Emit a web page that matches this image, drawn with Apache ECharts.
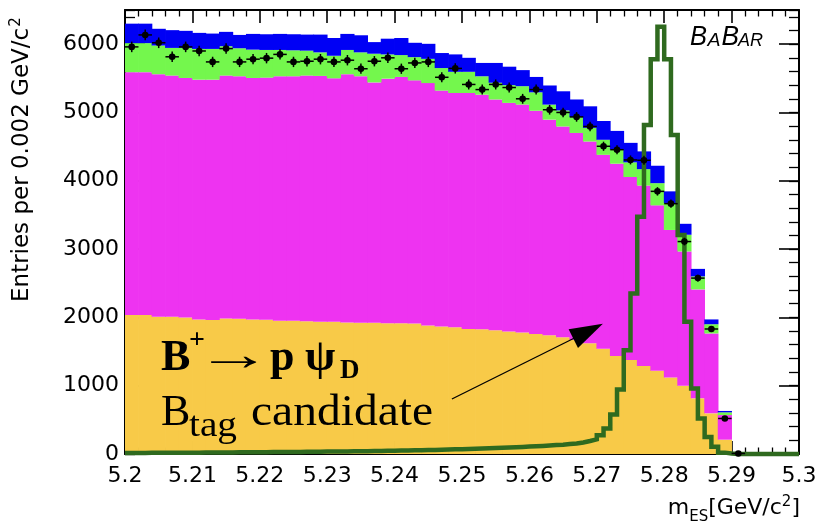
<!DOCTYPE html>
<html>
<head>
<meta charset="utf-8">
<title>mES distribution</title>
<script src="https://cdn.jsdelivr.net/npm/echarts@6.0.0/dist/echarts.min.js"></script>
<style>
html,body{margin:0;padding:0;background:#ffffff;}
#chart{width:819px;height:525px;}
</style>
</head>
<body>
<div id="chart"></div>
<script>
// ---------------- data ----------------
const xTickLabels = ['5.2','5.21','5.22','5.23','5.24','5.25','5.26','5.27','5.28','5.29','5.3'];
const yTickLabels = ['0','1000','2000','3000','4000','5000','6000'];
const binLow = 5.2, binWidth = 0.002;   // stacked background histograms: 50 bins
const sigLow = 5.2, sigWidth = 0.001;   // signal histogram: 100 bins

// cumulative tops of the stacked components
const orangeTop = [2035,2035,2010,2010,2000,1970,1960,1985,1980,1970,
                   1965,1950,1950,1945,1935,1935,1925,1920,1920,1915,
                   1915,1910,1880,1865,1855,1830,1825,1810,1795,1780,
                   1755,1740,1710,1670,1620,1540,1435,1375,1290,1220,
                   1120,1000,815,595,210, 0,0,0,0,0];
const magentaTop = [5590,5590,5560,5540,5505,5480,5480,5540,5530,5505,
                    5510,5530,5530,5540,5535,5500,5560,5530,5440,5495,
                    5520,5470,5430,5320,5285,5285,5260,5190,5140,5115,
                    5025,4895,4795,4700,4575,4380,4250,4055,3930,3640,
                    3280,2965,2410,1765,570, 0,0,0,0,0];
const greenTop = [6015,6015,5980,5945,5945,5930,5930,5970,5940,5920,
                  5915,5915,5910,5905,5880,5830,5915,5880,5860,5850,
                  5840,5810,5785,5650,5595,5595,5530,5435,5400,5385,
                  5295,5115,5030,4930,4775,4600,4455,4270,4170,3965,
                  3675,3210,2600,1900,610, 0,0,0,0,0];
const blueTop = [6300,6300,6225,6205,6195,6165,6155,6180,6135,6150,
                 6145,6150,6145,6140,6140,6090,6150,6130,6030,6080,
                 6090,6020,6005,5870,5850,5800,5725,5725,5670,5620,
                 5520,5395,5310,5190,5090,4875,4730,4555,4430,4220,
                 3845,3370,2710,1970,630, 0,0,0,0,0];
// data points (bins 0..45)
const dataCounts = [5960,6135,6020,5815,5960,5900,5740,5935,5740,5780,
                    5795,5850,5740,5750,5780,5740,5765,5640,5750,5800,
                    5640,5725,5740,5515,5645,5410,5335,5410,5365,5200,
                    5335,5040,5000,4935,4795,4505,4455,4305,4300,3845,
                    3665,3110,2575,1830,520,8];
// signal (B+ -> p psi_D) outline, 100 bins of 0.001
const signalCounts = [15,16,16,17,17,18,18,19,19,20,
                      20,21,21,22,23,23,24,25,25,26,
                      27,28,28,29,30,31,32,33,34,35,
                      36,37,38,40,41,42,44,45,47,49,
                      50,52,54,56,58,60,62,65,68,71,
                      74,77,80,84,88,92,96,100,104,108,
                      113,118,124,130,136,145,155,168,190,215,
                      275,375,580,945,1520,2350,3475,4815,5780,6255,
                      5780,4670,3205,1935,960,520,250,105,20,6,
                      0,0,0,0,0,0,0,0,0,0];
// annotation arrow (data coordinates)
const arrowTail = [5.2485, 805];
const arrowTip = [5.2709, 1905];

// ---------------- derived tables ----------------
const categories = orangeTop.map((_, i) => (binLow + binWidth * (i + 0.5)).toFixed(3));
const orangePart = orangeTop.slice();
const magentaPart = magentaTop.map((v, i) => v - orangeTop[i]);
const greenPart = greenTop.map((v, i) => v - magentaTop[i]);
const bluePart = blueTop.map((v, i) => v - greenTop[i]);
const dataPts = dataCounts.map((v, i) => [i, v]);
const sigPts = signalCounts.map((v, j) => [sigLow + sigWidth * j, v]);
sigPts.push([sigLow + sigWidth * signalCounts.length, signalCounts[signalCounts.length - 1]]);

const GRID = {left: 125, right: 20, top: 10, bottom: 71, outerBoundsMode: 'none'};
const BLACK = '#000000';
const LBL = {fontFamily: '"DejaVu Sans"', fontSize: 22, color: BLACK};

function xFmt(v) { const k = Math.round((v - 5.2) / 0.01); return xTickLabels[k] !== undefined ? xTickLabels[k] : ''; }
function yFmt(v) { const k = Math.round(v / 1000); return (Math.abs(v - k * 1000) < 1e-6 && yTickLabels[k] !== undefined) ? yTickLabels[k] : ''; }

const chart = echarts.init(document.getElementById('chart'), null, {renderer: 'canvas', width: 819, height: 525});

const barCommon = (name, data, color) => ({
  name, type: 'bar', xAxisIndex: 1, yAxisIndex: 0, stack: 'bkg', data,
  barWidth: 14.2, barGap: '-100%', silent: true, z: 2,
  itemStyle: {color}
});

const option = {
  animation: false,
  backgroundColor: '#ffffff',
  grid: [Object.assign({}, GRID), Object.assign({}, GRID)],
  xAxis: [
    { type: 'value', gridIndex: 0, position: 'bottom', min: 5.2, max: 5.3, interval: 0.01,
      axisLine: {show: true, onZero: false, lineStyle: {color: BLACK, width: 2}},
      axisTick: {show: true, inside: true, length: 13, lineStyle: {color: BLACK, width: 1.6}},
      minorTick: {show: true, splitNumber: 5, length: 6.5, lineStyle: {color: BLACK, width: 1.3}},
      splitLine: {show: false}, minorSplitLine: {show: false},
      axisLabel: Object.assign({show: true, margin: 11, formatter: xFmt, showMaxLabel: true, showMinLabel: true}, LBL) },
    { type: 'category', gridIndex: 0, position: 'top', data: categories, boundaryGap: true, show: false },
    { type: 'value', gridIndex: 1, position: 'top', min: 5.2, max: 5.3, interval: 0.01,
      axisLine: {show: true, onZero: false, lineStyle: {color: BLACK, width: 2}},
      axisTick: {show: true, inside: true, length: 13, lineStyle: {color: BLACK, width: 1.6}},
      minorTick: {show: true, splitNumber: 5, length: 6.5, lineStyle: {color: BLACK, width: 1.3}},
      splitLine: {show: false}, minorSplitLine: {show: false}, axisLabel: {show: false} }
  ],
  yAxis: [
    { type: 'value', gridIndex: 0, position: 'left', min: 0, max: 6500, interval: 1000,
      axisLine: {show: true, onZero: false, lineStyle: {color: BLACK, width: 2}},
      axisTick: {show: true, inside: true, length: 20, lineStyle: {color: BLACK, width: 1.6}},
      splitLine: {show: false},
      axisLabel: Object.assign({show: true, margin: 6, formatter: yFmt, showMaxLabel: false}, LBL) },
    { type: 'value', gridIndex: 0, position: 'right', min: 0, max: 6500, interval: 1000,
      axisLine: {show: true, onZero: false, lineStyle: {color: BLACK, width: 2}},
      axisTick: {show: true, inside: true, length: 20, lineStyle: {color: BLACK, width: 1.6}},
      splitLine: {show: false}, axisLabel: {show: false} },
    { type: 'value', gridIndex: 1, position: 'left', min: 0, max: 6500, interval: 200,
      axisLine: {show: false, onZero: false},
      axisTick: {show: true, inside: true, length: 10, lineStyle: {color: BLACK, width: 1.3}},
      splitLine: {show: false}, axisLabel: {show: false} },
    { type: 'value', gridIndex: 1, position: 'right', min: 0, max: 6500, interval: 200,
      axisLine: {show: false, onZero: false},
      axisTick: {show: true, inside: true, length: 10, lineStyle: {color: BLACK, width: 1.3}},
      splitLine: {show: false}, axisLabel: {show: false} }
  ],
  series: [
    barCommon('orange', orangePart, '#f8ca48'),
    barCommon('magenta', magentaPart, '#ee33f1'),
    barCommon('green', greenPart, '#74f74d'),
    barCommon('blue', bluePart, '#0000f5'),
    { name: 'signal', type: 'line', xAxisIndex: 0, yAxisIndex: 0, data: sigPts, step: 'end',
      symbol: 'none', clip: false, silent: true, z: 3,
      lineStyle: {color: '#2f6a1f', width: 4.5, join: 'miter'} },
    { name: 'data', type: 'custom', xAxisIndex: 1, yAxisIndex: 0, data: dataPts, silent: true, z: 4,
      renderItem: function (params, api) {
        const i = api.value(0), v = api.value(1);
        const c = api.coord([i, v]);
        const bw = api.size([1, 0])[0];
        const e = Math.sqrt(Math.max(v, 0));
        const yt = api.coord([i, v + e])[1], yb = api.coord([i, Math.max(v - e, 0)])[1];
        return { type: 'group', children: [
          {type: 'line', shape: {x1: c[0] - bw / 2, y1: c[1], x2: c[0] + bw / 2, y2: c[1]}, style: {stroke: BLACK, lineWidth: 1.5}},
          {type: 'line', shape: {x1: c[0], y1: yt, x2: c[0], y2: yb}, style: {stroke: BLACK, lineWidth: 1.5}},
          {type: 'circle', shape: {cx: c[0], cy: c[1], r: 3.3}, style: {fill: BLACK}}
        ]};
      } }
  ]
};
chart.setOption(option);

// ---------------- text annotations ----------------
const mctx = document.createElement('canvas').getContext('2d');
function fontStr(p) { return (p.style || 'normal') + ' ' + (p.weight || 'normal') + ' ' + p.size + 'px ' + p.family; }
function measure(p) { mctx.font = fontStr(p); return mctx.measureText(p.t).width; }
function textEl(p, x, baseline) {
  const w = measure(p);
  const sx = p.w ? p.w / w : 1;
  return { el: { type: 'text', x: x, y: baseline + (p.dy || 0) - 0.34 * p.size, scaleX: sx, silent: true, z: 100,
    style: { text: p.t, fontSize: p.size, fontFamily: p.family, fontWeight: p.weight || 'normal',
             fontStyle: p.style || 'normal', fill: BLACK, align: 'left', verticalAlign: 'middle' } }, w: w * sx };
}
function flow(pieces, x0, baseline) {
  let x = x0; const els = [];
  for (const p of pieces) {
    const px = (p.x != null) ? p.x : x + (p.gap || 0);
    const r = textEl(p, px, baseline);
    els.push(r.el); x = px + r.w;
  }
  return {els: els, end: x};
}
const SANS = '"DejaVu Sans"', SERIF = '"Liberation Serif"', ARIAL = '"Liberation Sans"';

// y axis title (rotated)
const yTitle = flow([
  {t: 'Entries per 0.002 GeV/c', size: 23, family: SANS},
  {t: '2', size: 15, family: SANS, dy: -9, gap: 1}
], 0, 0);
// x axis title, right aligned at the frame edge
const xPieces = [
  {t: 'm', size: 22, family: SANS},
  {t: 'ES', size: 15, family: SANS, dy: 6},
  {t: '[GeV/c', size: 22, family: SANS},
  {t: '2', size: 15, family: SANS, dy: -9},
  {t: ']', size: 22, family: SANS}
];
const xW = xPieces.reduce((s, p) => s + measure(p), 0);
const xTitle = flow(xPieces, 800 - xW, 516);
// BaBar logo
const babar = flow([
  {t: 'B', size: 27, family: ARIAL, style: 'italic', x: 690, w: 17},
  {t: 'A', size: 19, family: ARIAL, style: 'italic', x: 707.5, w: 13},
  {t: 'B', size: 27, family: ARIAL, style: 'italic', x: 721.5, w: 17.5},
  {t: 'AR', size: 19, family: ARIAL, style: 'italic', x: 738, w: 25}
], 0, 47);
// decay label
const line1 = flow([
  {t: 'B', size: 44, family: SERIF, weight: 'bold', x: 161},
  {t: '+', size: 28, family: SERIF, weight: 'bold', x: 189, dy: -24},
  {t: '\u2192', size: 46, family: SERIF, x: 196, w: 76},
  {t: 'p', size: 44, family: SERIF, weight: 'bold', x: 270},
  {t: '\u03C8', size: 44, family: SERIF, weight: 'bold', x: 305},
  {t: 'D', size: 27, family: SERIF, weight: 'bold', x: 340, dy: 6}
], 0, 374);
const line2 = flow([
  {t: 'B', size: 44, family: SERIF, x: 161},
  {t: 'tag', size: 36, family: SERIF, x: 189, w: 48, dy: 11},
  {t: 'candidate', size: 44, family: SERIF, x: 251, w: 182}
], 0, 428);

// arrow
const finder = {xAxisIndex: 0, yAxisIndex: 0};
const pT = chart.convertToPixel(finder, arrowTail);
const pH = chart.convertToPixel(finder, arrowTip);
const dx = pH[0] - pT[0], dy = pH[1] - pT[1], L = Math.hypot(dx, dy), ux = dx / L, uy = dy / L;
const hl = 33, hw = 10.5;
const bx = pH[0] - ux * hl, by = pH[1] - uy * hl;

chart.setOption({
  graphic: [
    {type: 'group', x: 30, y: 302, rotation: Math.PI / 2, silent: true, z: 100, children: yTitle.els}
  ].concat(xTitle.els, babar.els, line1.els, line2.els, [
    {type: 'line', silent: true, z: 100, shape: {x1: pT[0], y1: pT[1], x2: bx + ux * 3, y2: by + uy * 3},
     style: {stroke: BLACK, lineWidth: 1.3}},
    {type: 'polygon', silent: true, z: 100,
     shape: {points: [[pH[0], pH[1]], [bx - uy * hw, by + ux * hw], [bx + uy * hw, by - ux * hw]]},
     style: {fill: BLACK}}
  ])
});
</script>
</body>
</html>
